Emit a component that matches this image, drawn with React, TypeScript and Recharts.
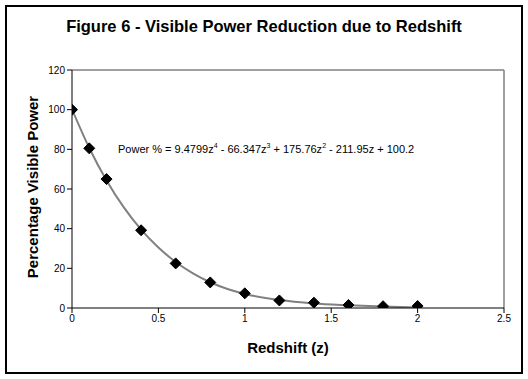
import React from "react";
import {
  ComposedChart,
  XAxis,
  YAxis,
  Scatter,
  Line,
  ReferenceLine,
  Label,
} from "recharts";

const redshift = [0, 0.1, 0.2, 0.4, 0.6, 0.8, 1.0, 1.2, 1.4, 1.6, 1.8, 2.0];
const visiblePower = [100, 80.5, 65, 39.2, 22.5, 12.9, 7.4, 3.8, 2.7, 1.5, 0.9, 1.0];

const trendZ = [0, 0.1, 0.2, 0.3, 0.4, 0.5, 0.6, 0.7, 0.8, 0.9, 1.0, 1.2, 1.4, 1.6, 1.8, 2.0];
const trendPower = [100.2, 80.7, 64.3, 50.7, 39.5, 30.5, 23.2, 17.5, 13.0, 9.6, 7.1, 4.0, 2.3, 1.4, 0.7, 0.3];

const xTicks = [0, 0.5, 1, 1.5, 2, 2.5];
const yTicks = [0, 20, 40, 60, 80, 100, 120];

const points = redshift.map((z, i) => ({ z, power: visiblePower[i] }));
const trend = trendZ.map((z, i) => ({ z, trend: trendPower[i] }));

const FONT = "Arial, 'Liberation Sans', sans-serif";

const Diamond = (props: any) => {
  const { cx, cy } = props;
  const r = 5.5;
  return (
    <polygon
      points={`${cx},${cy - r} ${cx + r},${cy} ${cx},${cy + r} ${cx - r},${cy}`}
      fill="#000"
      stroke="#000"
    />
  );
};

const YLabel = (props: any) => {
  const vb = props.viewBox || {};
  const x = vb.x + 12;
  const y = vb.y + vb.height / 2 - 2;
  return (
    <text
      x={x}
      y={y}
      transform={`rotate(-90, ${x}, ${y})`}
      textAnchor="middle"
      dominantBaseline="central"
      fontFamily={FONT}
      fontWeight="bold"
      fontSize={15}
      fill="#000"
    >
      Percentage Visible Power
    </text>
  );
};

export default function App() {
  return (
    <div
      style={{
        position: "absolute",
        left: 0,
        top: 0,
        width: 528,
        height: 379,
        background: "#fff",
        fontFamily: FONT,
      }}
    >
      <div
        style={{
          position: "absolute",
          left: 5,
          top: 5,
          width: 518,
          height: 369,
          border: "2px solid #000",
          boxSizing: "border-box",
        }}
      />
      <div
        style={{
          position: "absolute",
          left: 0,
          top: 17,
          width: 528,
          textAlign: "center",
          fontWeight: "bold",
          fontSize: 16.5,
          lineHeight: "19px",
          color: "#000",
        }}
      >
        Figure 6 - Visible Power Reduction due to Redshift
      </div>
      <div
        style={{
          position: "absolute",
          left: 0,
          top: 0,
        }}
      >
        <ComposedChart
          width={528}
          height={379}
          margin={{ top: 70, right: 24, bottom: 41, left: 20 }}
        >
          <XAxis
            dataKey="z"
            type="number"
            domain={[0, 2.5]}
            ticks={xTicks}
            height={30}
            stroke="#000"
            tickLine={{ stroke: "#000" }}
            tickSize={5}
            tick={{ fill: "#000", fontSize: 10, fontFamily: FONT }}
            allowDataOverflow
          >
            <Label
              value="Redshift (z)"
              position="bottom"
              offset={4}
              style={{ fontFamily: FONT, fontWeight: "bold", fontSize: 15, fill: "#000" }}
            />
          </XAxis>
          <YAxis
            type="number"
            domain={[0, 120]}
            ticks={yTicks}
            width={52}
            stroke="#000"
            tickSize={5}
            tick={{ fill: "#000", fontSize: 10, fontFamily: FONT }}
            allowDataOverflow
          >
            <Label content={<YLabel />} />
          </YAxis>
          <ReferenceLine y={120} stroke="#808080" strokeWidth={1.5} />
          <ReferenceLine x={2.5} stroke="#808080" strokeWidth={1.5} />
          <Line
            data={trend}
            dataKey="trend"
            type="monotone"
            stroke="#808080"
            strokeWidth={2}
            dot={false}
            activeDot={false}
            isAnimationActive={false}
          />
          <Scatter
            data={points}
            dataKey="power"
            shape={<Diamond />}
            isAnimationActive={false}
          />
        </ComposedChart>
      </div>
      <div
        style={{
          position: "absolute",
          left: 118,
          top: 142,
          fontSize: 11,
          color: "#000",
          whiteSpace: "nowrap",
        }}
      >
        Power % = 9.4799z<sup style={{ fontSize: 7 }}>4</sup> - 66.347z<sup style={{ fontSize: 7 }}>3</sup> + 175.76z<sup style={{ fontSize: 7 }}>2</sup> - 211.95z + 100.2
      </div>
    </div>
  );
}
